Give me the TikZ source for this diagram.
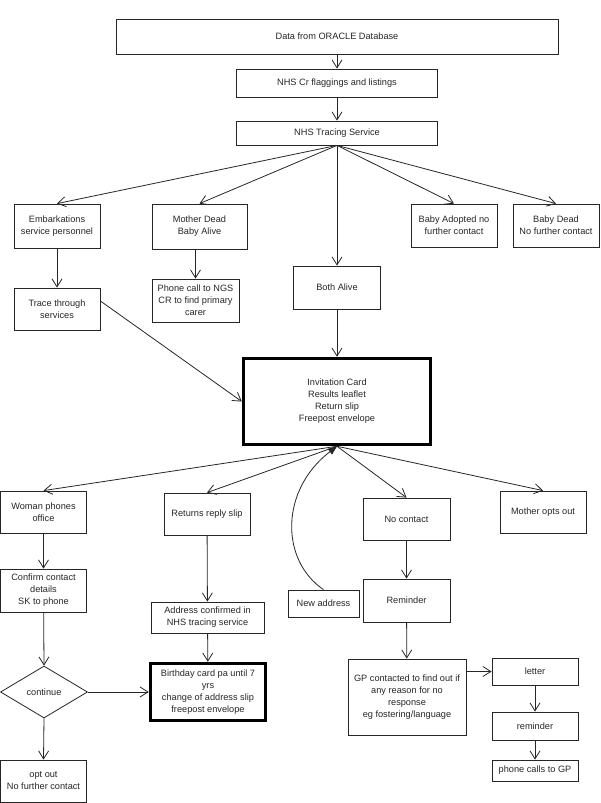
\documentclass[tikz,border=0pt]{standalone}
\usepackage{fontspec}
\setmainfont{Liberation Sans}
\usetikzlibrary{arrows.meta,shapes.geometric}
\begin{document}
\begin{tikzpicture}[x=1pt,y=-1pt,
  every node/.style={font=\fontsize{9.2}{12}\selectfont, align=center, inner sep=0pt, text=black!85},
  box/.style={draw=black!85, line width=0.8pt, rectangle},
  thickbox/.style={draw=black, line width=3.5pt, rectangle},
  arr/.style={draw=black!85, line width=0.8pt, -{Straight Barb[length=8pt,width=10pt]}},
]
\useasboundingbox (0,0) rectangle (600,803);
% top chain
\node[box, minimum width=442pt, minimum height=35pt] (ora) at (337,36.5) {Data from ORACLE Database};
\node[box, minimum width=201pt, minimum height=28pt] (flag) at (337,83) {NHS Cr flaggings and listings};
\node[box, minimum width=201pt, minimum height=24pt] (nts) at (337,133) {NHS Tracing Service};
% second row
\node[box, minimum width=86pt, minimum height=44pt] (emb) at (57,226) {Embarkations\\service personnel};
\node[box, minimum width=95pt, minimum height=45pt] (md) at (199.5,226.5) {Mother Dead\\Baby Alive};
\node[box, minimum width=86pt, minimum height=43pt] (bad) at (454,225.5) {Baby Adopted no\\further contact};
\node[box, minimum width=86pt, minimum height=43pt] (bd) at (556,225.5) {Baby Dead\\No further contact};
\node[box, minimum width=86pt, minimum height=42pt] (tts) at (57,309) {Trace through\\services};
\node[box, minimum width=87pt, minimum height=43pt] (ph) at (195.5,300.5) {Phone call to NGS\\CR to find primary\\carer};
\node[box, minimum width=87pt, minimum height=43pt] (ba) at (337,287.5) {Both Alive};
% invitation
\node[thickbox, minimum width=187pt, minimum height=86pt] (inv) at (337,401.5) {Invitation Card\\Results leaflet\\Return slip\\Freepost envelope};
% lower row
\node[box, minimum width=86pt, minimum height=42pt] (wpo) at (43.5,512) {Woman phones\\office};
\node[box, minimum width=86pt, minimum height=42pt] (rrs) at (207,514) {Returns reply slip};
\node[box, minimum width=87pt, minimum height=42pt] (nc) at (406.5,519) {No contact};
\node[box, minimum width=86pt, minimum height=42pt] (moo) at (543,512) {Mother opts out};
\node[box, minimum width=86pt, minimum height=43pt] (ccd) at (43.5,590.5) {Confirm contact\\details\\SK to phone};
\node[box, minimum width=113pt, minimum height=31pt] (acn) at (207.5,617.5) {Address confirmed in\\NHS tracing service};
\node[box, minimum width=71pt, minimum height=27pt] (na) at (323.5,603.5) {New address};
\node[box, minimum width=87pt, minimum height=43pt] (rem) at (406.5,600.5) {Reminder};
\node[draw=black!85, line width=0.8pt, diamond, aspect=1.67, minimum width=87pt, minimum height=52pt] (cont) at (44,692) {continue};
\node[thickbox, minimum width=115pt, minimum height=57pt] (bcard) at (208,692) {Birthday card pa until 7\\yrs\\change of address slip\\freepost envelope};
\node[box, minimum width=86pt, minimum height=42pt] (oo) at (43.5,781) {opt out\\No further contact};
\node[box, minimum width=118pt, minimum height=76pt] (gp) at (407,697) {GP contacted to find out if\\any reason for no\\response\\eg fostering/language};
\node[box, minimum width=86pt, minimum height=27pt] (let) at (535,671.5) {letter};
\node[box, minimum width=86pt, minimum height=28pt] (rem2) at (535,726) {reminder};
\node[box, minimum width=86pt, minimum height=21pt] (pcg) at (535,770.5) {phone calls to GP};
% connectors
\draw[arr] (ora) -- (flag);
\draw[arr] (flag) -- (nts);
\draw[arr] (nts.south) -- (emb.north);
\draw[arr] (nts.south) -- (md.north);
\draw[arr] (nts.south) -- (ba.north);
\draw[arr] (nts.south) -- (bad.north);
\draw[arr] (nts.south) -- (bd.north);
\draw[arr] (emb) -- (tts);
\draw[arr] (ph.north |- md.south) -- (ph.north);
\draw[arr] ([yshift=8pt]tts.east) -- (inv.west);
\draw[arr] (ba) -- (inv);
\draw[arr] (inv.south) -- (wpo.north);
\draw[arr] (inv.south) -- (rrs.north);
\draw[arr] (inv.south) -- (nc.north);
\draw[arr] (inv.south) -- (moo.north);
\draw[draw=black!85, line width=0.8pt, -{Triangle[length=9pt,width=7pt]}] (na.north) .. controls (280,560) and (280,490) .. (inv.south);
\draw[arr] (wpo) -- (ccd);
\draw[arr] (ccd) -- (cont.north);
\draw[arr] (cont.south) -- (oo.north);
\draw[arr] (cont.east) -- (bcard.west);
\draw[arr] (rrs) -- (acn);
\draw[arr] (acn) -- (bcard);
\draw[arr] (nc) -- (rem);
\draw[arr] (rem) -- (gp);
\draw[arr] (let.west -| gp.east) -- (let.west);
\draw[arr] (let) -- (rem2);
\draw[arr] (rem2) -- (pcg);
\end{tikzpicture}
\end{document}
